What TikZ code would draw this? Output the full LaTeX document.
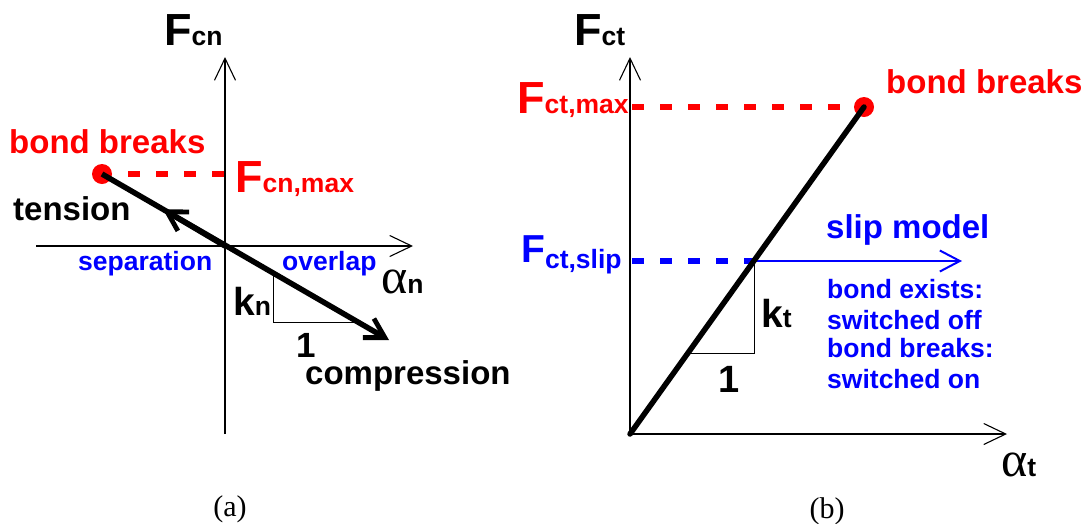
\documentclass[tikz,border=0pt]{standalone}
\usepackage{fontspec}
\setmainfont{Liberation Sans}
\newfontfamily\serfam{Liberation Serif}
\usetikzlibrary{arrows.meta}
\definecolor{bred}{RGB}{255,0,0}
\definecolor{bblue}{RGB}{0,0,255}
\newcommand\szF{\fontsize{45}{45}\selectfont}
\newcommand\szFs{\fontsize{39}{39}\selectfont}
\newcommand\szS{\fontsize{26.5}{26.5}\selectfont}
\newcommand\szK{\fontsize{39}{39}\selectfont}
\newcommand\szA{\fontsize{50}{50}\selectfont}
\begin{document}
\begin{tikzpicture}[x=1pt,y=-1pt,
  lbl/.style={inner sep=0pt,anchor=base west,font=\bfseries},
  bigtxt/.style={lbl,font=\bfseries\fontsize{33}{33}\selectfont},
  smalltxt/.style={lbl,font=\bfseries\fontsize{26.5}{26.5}\selectfont},
  captxt/.style={inner sep=0pt,anchor=base,font=\serfam\fontsize{30}{30}\selectfont},
  axisline/.style={line width=1.1pt,-{Straight Barb[length=22pt,width=21pt]}},
  thinline/.style={line width=1pt},
  thickline/.style={line width=5.5pt},
  fatbarb/.style={-{Straight Barb[length=19pt,width=22pt,line width=4.8pt]}},
  reddash/.style={draw=bred,line width=5.5pt,dash pattern=on 12pt off 16pt},
  bluedash/.style={draw=bblue,line width=5.5pt,dash pattern=on 12pt off 16pt},
  reddot/.style={circle,fill=bred,inner sep=0pt,minimum size=20pt}
]
\useasboundingbox (0,0) rectangle (1086,523);

% ---------------- panel (a) ----------------
\coordinate (Oa) at (225,246);
\coordinate (yaB) at (225,434);
\coordinate (yaT) at (225,57);
\coordinate (xaL) at (36,246);
\coordinate (xaR) at (413,246);
\draw[axisline] (yaB) -- (yaT);
\draw[axisline] (xaL) -- (xaR);

\coordinate (dashAstart) at (128,174);
\coordinate (dashAend) at (225,174);
\draw[reddash] (dashAstart) -- (dashAend);

\coordinate (Tip) at (389,340);
\coordinate (Mid) at (163,209.3);
\coordinate (triA1) at (273,273);
\coordinate (triA2) at (273,322);
\coordinate (triA3) at (357,322);
\draw[thinline] (triA1) -- (triA2) -- (triA3);

\node[reddot] (dotA) at (102,174) {};
\draw[thickline,fatbarb] (dotA.center) -- (Tip);
\draw[thickline,fatbarb] (Oa) -- (Mid);

\node[lbl] (Fcn) at (164,45) {\szF F\szS cn};
\node[bigtxt,text=bred] (bbA) at (9,153) {bond breaks};
\node[lbl,text=bred] (Fcnmax) at (235,192) {\szF F\szS cn,max};
\node[bigtxt] (tension) at (13,220) {tension};
\node[smalltxt,text=bblue] (sep) at (78,270) {separation};
\node[smalltxt,text=bblue] (ovl) at (282,270) {overlap};
\node[lbl] (alphan) at (381,293) {{\serfam\mdseries\szA α}\szS n};
\node[lbl] (kn) at (233,315) {\szK k\szS n};
\node[lbl,font=\bfseries\fontsize{35}{35}\selectfont] (onea) at (296,357) {1};
\node[bigtxt] (comp) at (305,384) {compression};
\node[captxt] (capa) at (230,516) {(a)};

% ---------------- panel (b) ----------------
\coordinate (Ob) at (630,434);
\coordinate (ybT) at (630,57);
\coordinate (xbR) at (1007,434);
\draw[axisline] (Ob) -- (ybT);
\draw[axisline] (Ob) -- (xbR);

\coordinate (dashBstart) at (632,107);
\coordinate (dashBend) at (852,107);
\draw[reddash] (dashBstart) -- (dashBend);

\coordinate (slipL) at (632,261);
\coordinate (slipM) at (754,261);
\coordinate (slipR) at (962,261);
\draw[bluedash] (slipL) -- (slipM);
\draw[draw=bblue,line width=2pt,-{Straight Barb[length=20pt,width=21pt]}] (slipM) -- (slipR);

\coordinate (triB2) at (754,353);
\coordinate (triB3) at (688,353);
\draw[thinline] (slipM) -- (triB2) -- (triB3);

\node[reddot] (dotB) at (864,107) {};
\draw[thickline,line cap=round] (Ob) -- (dotB.center);

\node[lbl] (Fct) at (574,45) {\szF F\szS ct};
\node[lbl,text=bred] (Fctmax) at (517,113) {\szF F\szS ct,max};
\node[bigtxt,text=bred] (bbB) at (886,93) {bond breaks};
\node[bigtxt,text=bblue] (slipmodel) at (826,238) {slip model};
\node[lbl,text=bblue] (Fctslip) at (521,262) {\szFs F\szS\raisebox{-6pt}{ct,slip}};
\node[lbl] (kt) at (761,327) {\szK k\szS t};
\node[lbl,font=\bfseries\fontsize{38}{38}\selectfont] (oneb) at (718,392) {1};
\node[smalltxt,text=bblue] (l1) at (827,298) {bond exists:};
\node[smalltxt,text=bblue] (l2) at (827,329) {switched off};
\node[smalltxt,text=bblue] (l3) at (827,357) {bond breaks:};
\node[smalltxt,text=bblue] (l4) at (827,388) {switched on};
\node[lbl] (alphat) at (1001,476) {{\serfam\mdseries\szA α}\szS t};
\node[captxt] (capb) at (827,518) {(b)};
\end{tikzpicture}
\end{document}
